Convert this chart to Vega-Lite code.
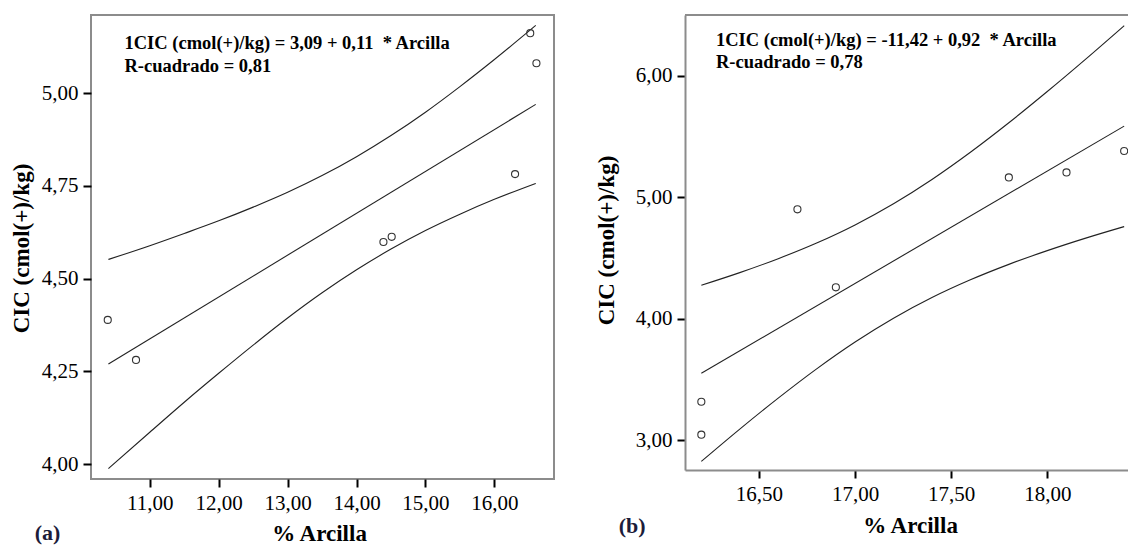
{
  "$schema": "https://vega.github.io/schema/vega-lite/v6.json",
  "padding": {"left": 9, "top": 14, "right": 0, "bottom": 0},
  "background": "white",
  "spacing": 131,
  "bounds": "flush",
  "config": {
    "font": "Times New Roman, Liberation Serif, DejaVu Serif, serif",
    "axis": {
      "grid": false,
      "domain": false,
      "tickColor": "black",
      "tickWidth": 2,
      "tickSize": 8,
      "labelFont": "Times New Roman, Liberation Serif, DejaVu Serif, serif",
      "labelFontSize": 21,
      "labelColor": "black",
      "labelPadding": 5,
      "titleFont": "Times New Roman, Liberation Serif, DejaVu Serif, serif",
      "titleFontSize": 23,
      "titleFontWeight": "bold",
      "titleColor": "black",
      "titleAlign": "center",
      "titleBaseline": "middle",
      "labelExpr": "replace(format(datum.value, '.2f'), '.', ',')"
    }
  },
  "datasets": {
    "ptsA": [
      {"x": 10.39, "y": 4.389}, {"x": 10.80, "y": 4.281}, {"x": 14.39, "y": 4.599},
      {"x": 14.51, "y": 4.613}, {"x": 16.30, "y": 4.782}, {"x": 16.52, "y": 5.162},
      {"x": 16.61, "y": 5.081}
    ],
    "lnA": [
      {"s": "fit", "x": 10.4, "y": 4.270}, {"s": "fit", "x": 16.6, "y": 4.970},
      {"s": "up", "x": 10.4, "y": 4.552}, {"s": "up", "x": 11.0, "y": 4.589}, {"s": "up", "x": 11.5, "y": 4.622},
      {"s": "up", "x": 12.0, "y": 4.656}, {"s": "up", "x": 12.5, "y": 4.693}, {"s": "up", "x": 13.0, "y": 4.733},
      {"s": "up", "x": 13.5, "y": 4.778}, {"s": "up", "x": 14.0, "y": 4.829}, {"s": "up", "x": 14.5, "y": 4.886},
      {"s": "up", "x": 15.0, "y": 4.949}, {"s": "up", "x": 15.5, "y": 5.018}, {"s": "up", "x": 16.0, "y": 5.091},
      {"s": "up", "x": 16.6, "y": 5.183},
      {"s": "lo", "x": 10.4, "y": 3.988}, {"s": "lo", "x": 11.0, "y": 4.086}, {"s": "lo", "x": 11.5, "y": 4.167},
      {"s": "lo", "x": 12.0, "y": 4.245}, {"s": "lo", "x": 12.5, "y": 4.321}, {"s": "lo", "x": 13.0, "y": 4.394},
      {"s": "lo", "x": 13.5, "y": 4.462}, {"s": "lo", "x": 14.0, "y": 4.524}, {"s": "lo", "x": 14.5, "y": 4.580},
      {"s": "lo", "x": 15.0, "y": 4.630}, {"s": "lo", "x": 15.5, "y": 4.674}, {"s": "lo", "x": 16.0, "y": 4.714},
      {"s": "lo", "x": 16.6, "y": 4.757}
    ],
    "ptsB": [
      {"x": 16.2, "y": 3.316}, {"x": 16.2, "y": 3.045}, {"x": 16.7, "y": 4.90},
      {"x": 16.9, "y": 4.258}, {"x": 17.8, "y": 5.163}, {"x": 18.1, "y": 5.204},
      {"x": 18.4, "y": 5.38}
    ],
    "lnB": [
      {"s": "fit", "x": 16.2, "y": 3.550}, {"s": "fit", "x": 18.4, "y": 5.585},
      {"s": "up", "x": 16.2, "y": 4.275}, {"s": "up", "x": 16.4, "y": 4.379}, {"s": "up", "x": 16.6, "y": 4.494},
      {"s": "up", "x": 16.8, "y": 4.623}, {"s": "up", "x": 17.0, "y": 4.772}, {"s": "up", "x": 17.2, "y": 4.946},
      {"s": "up", "x": 17.4, "y": 5.146}, {"s": "up", "x": 17.6, "y": 5.370}, {"s": "up", "x": 17.8, "y": 5.613},
      {"s": "up", "x": 18.0, "y": 5.870}, {"s": "up", "x": 18.2, "y": 6.137}, {"s": "up", "x": 18.4, "y": 6.412},
      {"s": "lo", "x": 16.2, "y": 2.825}, {"s": "lo", "x": 16.4, "y": 3.091}, {"s": "lo", "x": 16.6, "y": 3.346},
      {"s": "lo", "x": 16.8, "y": 3.587}, {"s": "lo", "x": 17.0, "y": 3.808}, {"s": "lo", "x": 17.2, "y": 4.004},
      {"s": "lo", "x": 17.4, "y": 4.174}, {"s": "lo", "x": 17.6, "y": 4.320}, {"s": "lo", "x": 17.8, "y": 4.447},
      {"s": "lo", "x": 18.0, "y": 4.560}, {"s": "lo", "x": 18.2, "y": 4.663}, {"s": "lo", "x": 18.4, "y": 4.758}
    ],
    "one": [{}]
  },
  "hconcat": [
    {
      "width": 463,
      "height": 464,
      "view": {"stroke": "#8c8c8c", "strokeWidth": 2},
      "layer": [
        {
          "data": {"name": "lnA"},
          "mark": {"type": "line", "color": "#222222", "strokeWidth": 1.1, "interpolate": "monotone"},
          "encoding": {
            "x": {"field": "x", "type": "quantitative",
                  "scale": {"domain": [10.147, 16.865], "nice": false, "zero": false},
                  "axis": {"title": "% Arcilla", "values": [11, 12, 13, 14, 15, 16], "titleX": 228, "titleY": 54}},
            "y": {"field": "y", "type": "quantitative",
                  "scale": {"domain": [3.96, 5.211], "nice": false, "zero": false},
                  "axis": {"title": "CIC (cmol(+)/kg)", "values": [4, 4.25, 4.5, 4.75, 5], "titleX": -69.5, "titleY": 233, "titleAngle": -90}},
            "detail": {"field": "s"}
          }
        },
        {
          "data": {"name": "ptsA"},
          "mark": {"type": "point", "shape": "circle", "filled": false, "stroke": "#333333", "strokeWidth": 1.1, "size": 50, "opacity": 1},
          "encoding": {
            "x": {"field": "x", "type": "quantitative"},
            "y": {"field": "y", "type": "quantitative"}
          }
        },
        {
          "data": {"name": "one"},
          "mark": {"type": "text", "text": "1CIC (cmol(+)/kg) = 3,09 + 0,11 \u00a0* Arcilla", "fontWeight": "bold", "fontSize": 18.5, "align": "left", "baseline": "middle", "color": "black"},
          "encoding": {"x": {"datum": 10.633}, "y": {"datum": 5.136}}
        },
        {
          "data": {"name": "one"},
          "mark": {"type": "text", "text": "R-cuadrado = 0,81", "fontWeight": "bold", "fontSize": 18.5, "align": "left", "baseline": "middle", "color": "black"},
          "encoding": {"x": {"datum": 10.633}, "y": {"datum": 5.074}}
        },
        {
          "data": {"name": "one"},
          "mark": {"type": "text", "text": "(a)", "fontWeight": "bold", "fontSize": 22, "align": "center", "baseline": "middle", "color": "#1c1c3a"},
          "encoding": {"x": {"datum": 9.516}, "y": {"datum": 3.815}}
        }
      ]
    },
    {
      "width": 443,
      "height": 455,
      "view": {"stroke": null},
      "layer": [
        {
          "data": {"name": "lnB"},
          "mark": {"type": "line", "color": "#222222", "strokeWidth": 1.1, "interpolate": "monotone"},
          "encoding": {
            "x": {"field": "x", "type": "quantitative",
                  "scale": {"domain": [16.115, 18.42], "nice": false, "zero": false},
                  "axis": {"title": "% Arcilla", "values": [16.5, 17, 17.5, 18], "titleX": 225, "titleY": 55, "domain": true, "domainColor": "#8c8c8c", "domainWidth": 2}},
            "y": {"field": "y", "type": "quantitative",
                  "scale": {"domain": [2.754, 6.5], "nice": false, "zero": false},
                  "axis": {"title": "CIC (cmol(+)/kg)", "values": [3, 4, 5, 6], "titleX": -79, "titleY": 225, "titleAngle": -90, "domain": true, "domainColor": "#8c8c8c", "domainWidth": 2}},
            "detail": {"field": "s"}
          }
        },
        {
          "data": {"name": "one"},
          "mark": {"type": "rule", "color": "#8c8c8c", "strokeWidth": 2},
          "encoding": {"y": {"datum": 6.5}}
        },
        {
          "data": {"name": "ptsB"},
          "mark": {"type": "point", "shape": "circle", "filled": false, "stroke": "#333333", "strokeWidth": 1.1, "size": 50, "opacity": 1},
          "encoding": {
            "x": {"field": "x", "type": "quantitative"},
            "y": {"field": "y", "type": "quantitative"}
          }
        },
        {
          "data": {"name": "one"},
          "mark": {"type": "text", "text": "1CIC (cmol(+)/kg) = -11,42 + 0,92 \u00a0* Arcilla", "fontWeight": "bold", "fontSize": 18.5, "align": "left", "baseline": "middle", "color": "black"},
          "encoding": {"x": {"datum": 16.276}, "y": {"datum": 6.294}}
        },
        {
          "data": {"name": "one"},
          "mark": {"type": "text", "text": "R-cuadrado = 0,78", "fontWeight": "bold", "fontSize": 18.5, "align": "left", "baseline": "middle", "color": "black"},
          "encoding": {"x": {"datum": 16.276}, "y": {"datum": 6.113}}
        },
        {
          "data": {"name": "one"},
          "mark": {"type": "text", "text": "(b)", "fontWeight": "bold", "fontSize": 22, "align": "center", "baseline": "middle", "color": "#1c1c3a"},
          "encoding": {"x": {"datum": 15.84}, "y": {"datum": 2.295}}
        }
      ]
    }
  ]
}
